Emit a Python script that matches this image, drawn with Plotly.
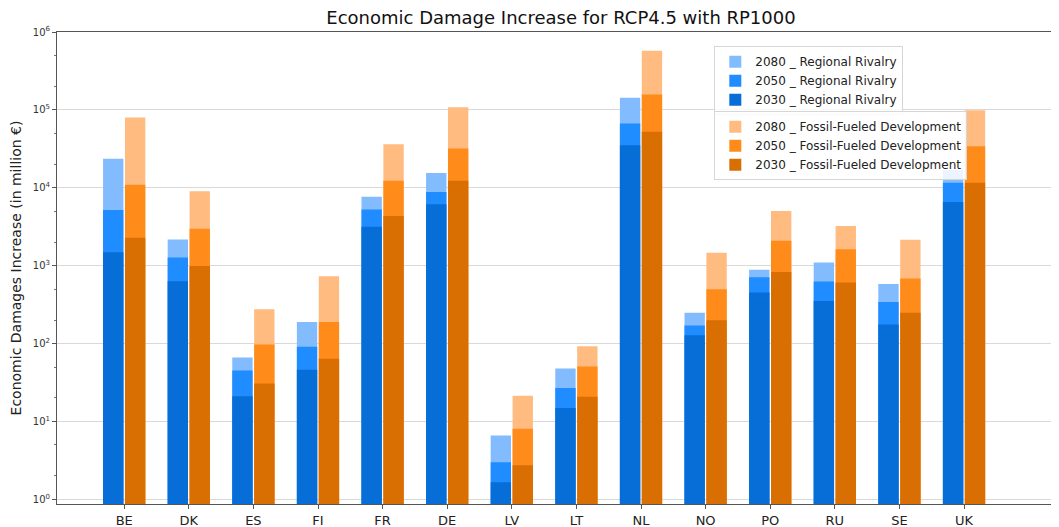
import plotly.graph_objects as go

# Countries on the x axis
countries = ["BE", "DK", "ES", "FI", "FR", "DE", "LV", "LT", "NL", "NO", "PO", "RU", "SE", "UK"]

# Economic damage increase (million EUR)
rr_2030 = [1490, 630, 21, 46, 3150, 6160, 1.66, 14.9, 35100, 128, 452, 352, 175, 6560]
rr_2050 = [5180, 1270, 45, 91, 5270, 8830, 3.0, 26.9, 67000, 171, 711, 626, 342, 11600]
rr_2080 = [23500, 2160, 66, 189, 7680, 15500, 6.6, 47.8, 143000, 249, 883, 1100, 583, 16900]
ff_2030 = [2290, 990, 30.6, 63.7, 4330, 12300, 2.74, 20.8, 52400, 199, 832, 607, 249, 11600]
ff_2050 = [10960, 2970, 97, 189, 12300, 31900, 8.05, 50.7, 158000, 498, 2090, 1630, 684, 34100]
ff_2080 = [80000, 9000, 275, 733, 36200, 108000, 21.4, 92.6, 575000, 1460, 5040, 3230, 2150, 99000]

# Y tick labels
y_tickvals = [1, 10, 100, 1000, 10000, 100000, 1000000]
y_ticktext = ["10<sup>0</sup>", "10<sup>1</sup>", "10<sup>2</sup>", "10<sup>3</sup>",
              "10<sup>4</sup>", "10<sup>5</sup>", "10<sup>6</sup>"]

font = "DejaVu Sans"
bar_w = 0.315

# the page body adds an 8px margin, so the figure is a little smaller
W, H = 1051, 519

fig = go.Figure()

# Regional Rivalry (blue, left bar of each pair); later years drawn behind
blue = [("2080", rr_2080, "#82bcff"), ("2050", rr_2050, "#1f8cff"), ("2030", rr_2030, "#066ed6")]
for year, vals, color in blue:
    fig.add_trace(go.Bar(
        x=countries, y=vals, name=f"{year} _ Regional Rivalry",
        marker_color=color, marker_line_width=0,
        width=bar_w, offset=-bar_w - 0.012, legend="legend",
    ))

# Fossil-Fueled Development (orange, right bar of each pair)
orange = [("2080", ff_2080, "#ffbb80"), ("2050", ff_2050, "#ff8c1a"), ("2030", ff_2030, "#d96e03")]
for year, vals, color in orange:
    fig.add_trace(go.Bar(
        x=countries, y=vals, name=f"{year} _ Fossil-Fueled Development",
        marker_color=color, marker_line_width=0,
        width=bar_w, offset=0.012, legend="legend2",
    ))

legend_style = dict(
    bgcolor="rgba(255,255,255,0.85)", bordercolor="#d6d6d6", borderwidth=1,
    font=dict(family=font, size=12, color="#222"),
    xanchor="left", yanchor="top", tracegroupgap=0, itemwidth=30,
)

fig.update_layout(
    width=W, height=H,
    barmode="overlay",
    plot_bgcolor="white", paper_bgcolor="white",
    margin=dict(l=49, r=0, t=24, b=23),
    font=dict(family=font, color="#222"),
    title=dict(text="Economic Damage Increase for RCP4.5 with RP1000",
               font=dict(family=font, size=18, color="#111"),
               x=553 / W, xref="container", xanchor="center",
               y=1 - 10 / H, yref="container", yanchor="middle"),
    legend=dict(x=0.656, y=0.97, **legend_style),
    legend2=dict(x=0.656, y=0.832, **legend_style),
)

fig.update_xaxes(
    range=[-1.04, 14.47], showgrid=False,
    showline=True, linecolor="#555", linewidth=1, mirror=True,
    ticks="outside", ticklen=4, tickcolor="#555",
    tickfont=dict(family=font, size=13, color="#222"), automargin=False,
)

fig.update_yaxes(
    type="log", range=[-0.06, 6.0],
    tickvals=y_tickvals, ticktext=y_ticktext,
    tickfont=dict(family=font, size=10, color="#333"),
    showgrid=True, gridcolor="#d9d9d9", gridwidth=1,
    showline=True, linecolor="#555", linewidth=1,
    ticks="outside", ticklen=4, tickcolor="#555",
    minor=dict(ticks="outside", ticklen=2, tickcolor="#777", showgrid=False),
    zeroline=False, automargin=False,
    title=dict(text="Economic Damages Increase (in million €)",
               font=dict(family=font, size=14, color="#222"), standoff=8),
)

fig.write_html("out.html")
